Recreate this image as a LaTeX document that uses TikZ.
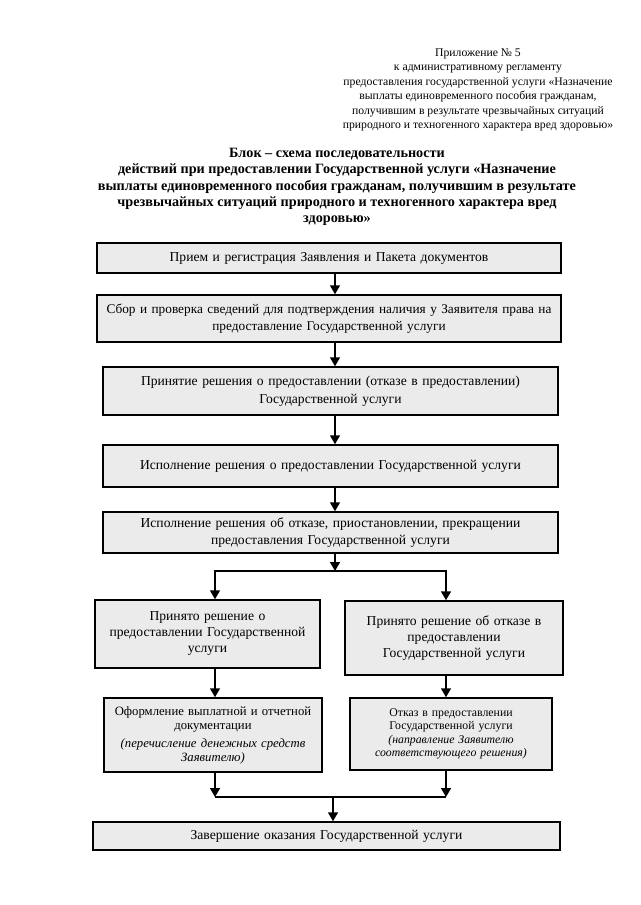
\documentclass[tikz,border=0pt]{standalone}
\usepackage{fontspec}
\setmainfont{Liberation Serif}
\usepackage{tikz}
\usetikzlibrary{positioning, arrows.meta}

\begin{document}
\begin{tikzpicture}[x=1pt, y=-1pt,
  box/.style={draw=black, line width=1.5pt, fill=gray!16, align=center, inner sep=2pt,
    font=\fontsize{13.6}{17.5}\selectfont},
  arr/.style={-{Triangle[length=9pt, width=10pt]}, line width=1.6pt},
  ln/.style={line width=1.6pt}]
\useasboundingbox[fill=white] (0,0) rectangle (640,905);

% шапка
\node[align=center, font=\fontsize{11.7}{14.5}\selectfont] (head) at (478,90)
  {Приложение № 5\\ к административному регламенту\\
   предоставления государственной услуги «Назначение\\
   выплаты единовременного пособия гражданам,\\
   получившим в результате чрезвычайных ситуаций\\
   природного и техногенного характера вред здоровью»};
\node[align=center, font=\bfseries\fontsize{14.2}{16.3}\selectfont] (title) at (337,187)
  {Блок – схема последовательности\\
   действий при предоставлении Государственной услуги «Назначение\\
   выплаты единовременного пособия гражданам, получившим в результате\\
   чрезвычайных ситуаций природного и техногенного характера вред\\
   здоровью»};

% основной столбец
\node[box, minimum width=464pt, minimum height=30pt, text width=458pt] (b1) at (329,258)
  {Прием и регистрация Заявления и Пакета документов};
\node[box, minimum width=464pt, minimum height=47pt, text width=462pt, inner sep=1pt,
  font=\fontsize{13.3}{17.5}\selectfont] (b2) at (329,318.5)
  {Сбор и проверка сведений для подтверждения наличия у Заявителя права на\\ предоставление Государственной услуги};
\node[box, minimum width=455pt, minimum height=48pt, text width=449pt] (b3) at (330.5,391)
  {Принятие решения о предоставлении (отказе в предоставлении)\\ Государственной услуги};
\node[box, minimum width=455pt, minimum height=42pt, text width=449pt] (b4) at (330.5,466)
  {Исполнение решения о предоставлении Государственной услуги\\[-6pt]};
\node[box, minimum width=455pt, minimum height=41pt, text width=449pt] (b5) at (330.5,532.5)
  {Исполнение решения об отказе, приостановлении, прекращении\\ предоставления Государственной услуги};

% ветви
\node[box, minimum width=225pt, minimum height=68pt, text width=219pt,
  font=\fontsize{13.6}{16}\selectfont] (l1) at (207.5,634)
  {Принято решение о\\ предоставлении Государственной\\ услуги};
\node[box, minimum width=218pt, minimum height=74pt, text width=212pt,
  font=\fontsize{13.6}{16}\selectfont] (r1) at (454,638)
  {Принято решение об отказе в\\ предоставлении\\ Государственной услуги};
\node[box, minimum width=218pt, minimum height=74pt, text width=212pt,
  font=\fontsize{12.7}{14}\selectfont] (l2) at (213,735)
  {Оформление выплатной и отчетной\\ документации\\[4pt]
   \textit{(перечисление денежных средств}\\ \textit{Заявителю)}};
\node[box, minimum width=202pt, minimum height=72pt, text width=196pt,
  font=\fontsize{11.8}{13.3}\selectfont] (r2) at (451,734)
  {Отказ в предоставлении\\ Государственной услуги\\
   \textit{(направление Заявителю}\\ \textit{соответствующего решения)}};

% итог
\node[box, minimum width=467pt, minimum height=28pt, text width=461pt] (b8) at (326.5,836)
  {Завершение оказания Государственной услуги};

\coordinate (mid) at (335,0);
\coordinate (lcol) at (215,0);
\coordinate (rcol) at (446,0);
\coordinate (fork) at (335,571);
\coordinate (join) at (333,797);

\draw[arr] (b1.south -| mid) -- (b2.north -| mid);
\draw[arr] (b2.south -| mid) -- (b3.north -| mid);
\draw[arr] (b3.south -| mid) -- (b4.north -| mid);
\draw[arr] (b4.south -| mid) -- (b5.north -| mid);
\draw[arr] (b5.south -| mid) -- (fork);
\draw[arr] (fork) -| (l1.north -| lcol);
\draw[arr] (fork) -| (r1.north -| rcol);
\draw[arr] (l1.south -| lcol) -- (l2.north -| lcol);
\draw[arr] (r1.south -| rcol) -- (r2.north -| rcol);
\draw[arr] (l2.south -| lcol) -- (lcol |- join);
\draw[arr] (r2.south -| rcol) -- (rcol |- join);
\draw[ln] (lcol |- join) -- (rcol |- join);
\draw[arr] (join) -- (b8.north -| join);
\end{tikzpicture}
\end{document}
